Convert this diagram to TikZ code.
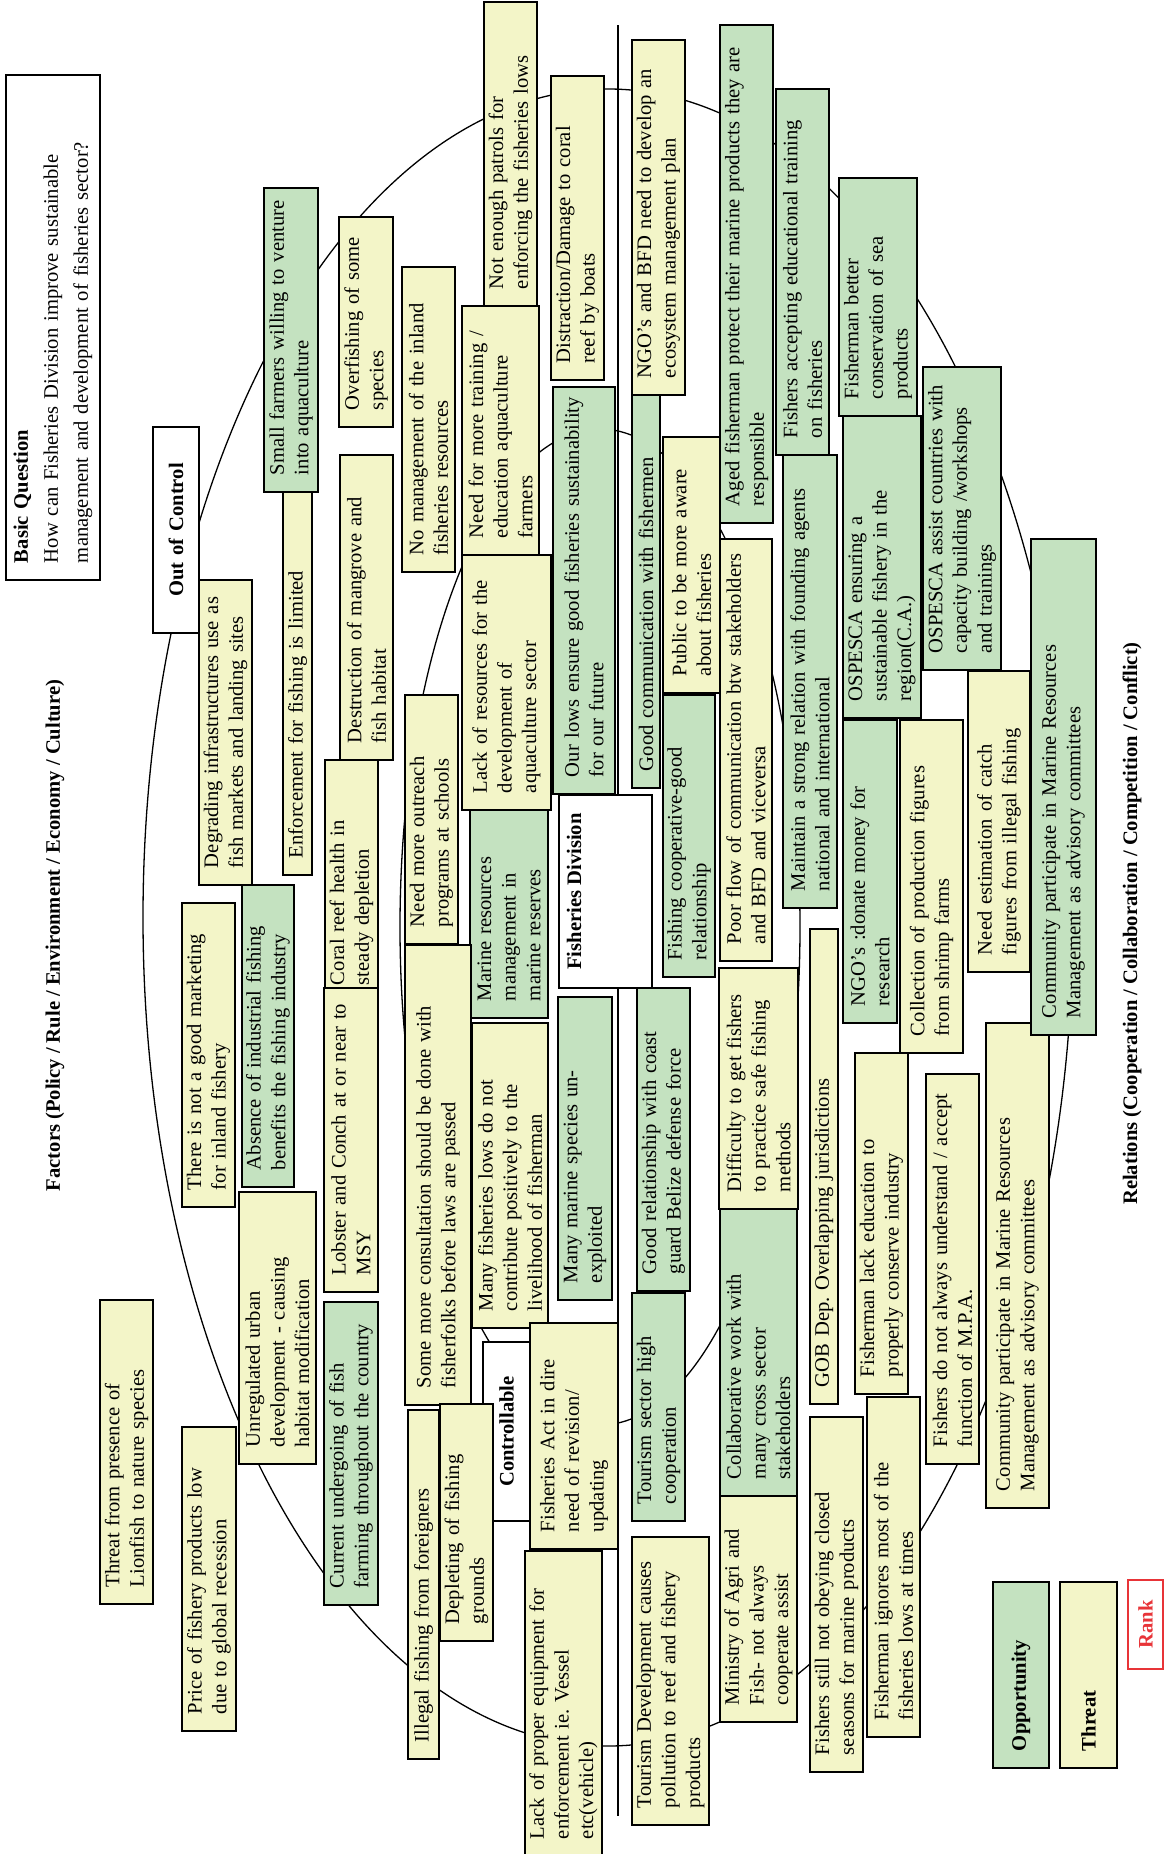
\documentclass[tikz,border=0pt]{standalone}
\usepackage{fontspec}
\setmainfont{Liberation Serif}
\definecolor{oppgreen}{RGB}{196,226,192}
\definecolor{thryellow}{RGB}{243,245,200}
\definecolor{rankred}{RGB}{232,52,56}
\newcommand\fs{\fontsize{10.3}{12.3}\selectfont}
% \mapbox{name}{style}{x1}{y1}{x2}{y2}{text}: upright box given by its corners,
% text turned to read upwards, starting at the lower edge
\newcommand\mapbox[7]{%
  \pgfmathsetmacro\bxlen{(#6-#4)*0.5}%
  \pgfmathsetmacro\bxthk{(#5-#3)*0.5}%
  \pgfmathsetmacro\bxtw{\bxlen-17}%
  \node[box,#2,minimum width=\bxlen pt,minimum height=\bxthk pt,text width=\bxtw pt]
    (#1) at ({(#3+#5)/2},{(#4+#6)/2}) {#7};}
\tikzset{
  box/.style={draw=black,line width=0.95pt,rotate=90,inner xsep=8.5pt,inner ysep=0.5pt,
    align=left,font=\fs,text=black},
  opp/.style={fill=oppgreen},
  thr/.style={fill=thryellow},
  plainbox/.style={fill=white},
  title/.style={rotate=90,font=\fs\bfseries,inner sep=0pt},
  ring/.style={line width=0.65pt},
}
\begin{document}
\frenchspacing
\begin{tikzpicture}[x=0.5pt,y=-0.5pt]
\useasboundingbox (0,0) rectangle (1164,1854);
\fill[white] (0,0) rectangle (1164,1854);

% outer ring, inner ring and the dividing axis
\coordinate (outerc) at (608,917.5);
\coordinate (innerc) at (600,927);
\draw[ring] (outerc) ellipse [x radius=465, y radius=828.5];
\draw[ring] (innerc) ellipse [x radius=200, y radius=498];
\coordinate (axistop) at (618,25);
\coordinate (axisbot) at (618,1816);
\draw[ring] (axistop) -- (axisbot);

% headings
\node[title] (factors) at (55,935.5) {Factors (Policy / Rule / Environment / Economy / Culture)};
\node[title] (relations) at (1132,923.5) {Relations (Cooperation / Collaboration / Competition / Conflict)};

\mapbox{question}{plainbox,font={\fontsize{10.3}{15}\selectfont},inner ysep=3pt}{6}{75}{100}{580}
  {\mbox{\textbf{Basic Question}}\\\mbox{How can Fisheries Division improve sustainable}\\\mbox{management and development of fisheries sector?}}

% zone labels
\mapbox{outofcontrol}{plainbox,font=\fs\bfseries,align=center}{153}{427}{199}{633}{Out of Control}
\mapbox{controllable}{plainbox,font=\fs\bfseries,align=center}{483}{1342}{530}{1521}{Controllable}
\mapbox{fisheriesdiv}{plainbox}{559}{795}{652}{988}{}
\node[title,anchor=west] (fisheriesdivtext) at (574,970) {Fisheries Division};

% factors side
\mapbox{lionfish}{thr}{100}{1300}{153}{1604}{\mbox{Threat from presence of}\\\mbox{Lionfish to nature species}}
\mapbox{price}{thr}{182}{1427}{236}{1731}{\mbox{Price of fishery products low}\\\mbox{due to global recession}}
\mapbox{marketing}{thr}{182}{903}{235}{1207}{\mbox{There is not a good marketing}\\\mbox{for inland fishery}}
\mapbox{industrial}{opp}{242}{885}{294}{1187}{\mbox{Absence of industrial fishing}\\\mbox{benefits the fishing industry}}
\mapbox{degrading}{thr}{199}{580}{252}{885}{\mbox{Degrading infrastructures use as}\\\mbox{fish markets and landing sites}}
\mapbox{enforcement}{thr}{283}{470}{312}{875}{\mbox{Enforcement for fishing is limited}}
\mapbox{smallfarmers}{opp}{264}{188}{318}{492}{\mbox{Small farmers willing to venture}\\\mbox{into aquaculture}}
\mapbox{urban}{thr}{239}{1192}{316}{1464}{\mbox{Unregulated urban}\\\mbox{development - causing}\\\mbox{habitat modification}}
\mapbox{fishfarming}{opp}{324}{1302}{378}{1605}{\mbox{Current undergoing of fish}\\\mbox{farming throughout the country}}
\mapbox{coral}{thr}{325}{760}{378}{1002}{\mbox{Coral reef health in}\\\mbox{steady depletion}}
\mapbox{lobster}{thr}{324}{988}{378}{1292}{\mbox{Lobster and Conch at or near to}\\\mbox{MSY}}
\mapbox{mangrove}{thr}{340}{455}{393}{760}{\mbox{Destruction of mangrove and}\\\mbox{fish habitat}}
\mapbox{overfishing}{thr}{339}{217}{393}{427}{\mbox{Overfishing of some}\\\mbox{species}}
\mapbox{inland}{thr}{402}{267}{455}{572}{\mbox{No management of the inland}\\\mbox{fisheries resources}}
\mapbox{training}{thr}{462}{306}{539}{555}{\mbox{Need for more training /}\\\mbox{education aquaculture}\\\mbox{farmers}}
\mapbox{patrols}{thr}{484}{2}{537}{306}{\mbox{Not enough patrols for}\\\mbox{enforcing the fisheries lows}}
\mapbox{damage}{thr}{551}{76}{604}{380}{\mbox{Distraction/Damage to coral}\\\mbox{reef by boats}}
\mapbox{resources}{thr}{462}{555}{551}{810}{\mbox{Lack of resources for the}\\\mbox{development of}\\\mbox{aquaculture sector}}
\mapbox{outreach}{thr}{405}{695}{458}{944}{\mbox{Need more outreach}\\\mbox{programs at schools}}
\mapbox{reserves}{opp}{470}{810}{548}{1018}{\mbox{Marine resources}\\\mbox{management in}\\\mbox{marine reserves}}
\mapbox{consultation}{thr}{405}{945}{471}{1405}{\mbox{Some more consultation should be done with}\\\mbox{fisherfolks before laws are passed}}
\mapbox{livelihood}{thr}{472}{1023}{548}{1328}{\mbox{Many fisheries lows do not}\\\mbox{contribute positively to the}\\\mbox{livelihood of fisherman}}
\mapbox{unexploited}{opp}{558}{997}{612}{1300}{\mbox{Many marine species un-}\\\mbox{exploited}}
\mapbox{ourlows}{opp}{553}{387}{615}{794}{\mbox{Our lows ensure good fisheries sustainability}\\\mbox{for our future}}
\mapbox{act}{thr}{530}{1323}{618}{1549}{\mbox{Fisheries Act in dire}\\\mbox{need of revision/}\\\mbox{updating}}
\mapbox{depleting}{thr}{440}{1404}{493}{1641}{\mbox{Depleting of fishing}\\\mbox{grounds}}
\mapbox{illegal}{thr}{408}{1410}{439}{1759}{\mbox{Illegal fishing from foreigners}}
\mapbox{equipment}{thr}{525}{1551}{602}{1856}{\mbox{Lack of proper equipment for}\\\mbox{enforcement ie. Vessel}\\\mbox{etc(vehicle)}}

% relations side
\mapbox{goodcomm}{opp}{632}{380}{660}{788}{\mbox{Good communication with fishermen}}
\mapbox{ecosystem}{thr}{632}{40}{685}{395}{\mbox{NGO’s and BFD need to develop an}\\\mbox{ecosystem management plan}}
\mapbox{aged}{opp}{720}{25}{773}{523}{\mbox{Aged fisherman protect their marine products they are}\\\mbox{responsible}}
\mapbox{accepting}{opp}{776}{89}{829}{455}{\mbox{Fishers accepting educational training}\\\mbox{on fisheries}}
\mapbox{conservation}{opp}{839}{178}{917}{416}{\mbox{Fisherman better}\\\mbox{conservation of sea}\\\mbox{products}}
\mapbox{ospescaa}{opp}{843}{416}{921}{718}{\mbox{OSPESCA ensuring a}\\\mbox{sustainable fishery in the}\\\mbox{region(C.A.)}}
\mapbox{ospescab}{opp}{923}{367}{1001}{670}{\mbox{OSPESCA assist countries with}\\\mbox{capacity building /workshops}\\\mbox{and trainings}}
\mapbox{communityb}{thr}{986}{1023}{1049}{1508}{\mbox{Community participate in Marine Resources}\\\mbox{Management as advisory committees}}
\mapbox{communitya}{opp}{1031}{539}{1096}{1035}{\mbox{Community participate in Marine Resources}\\\mbox{Management as advisory committees}}
\mapbox{catch}{thr}{968}{671}{1030}{972}{\mbox{Need estimation of catch}\\\mbox{figures from illegal fishing}}
\mapbox{shrimp}{thr}{900}{720}{963}{1053}{\mbox{Collection of production figures}\\\mbox{from shrimp farms}}
\mapbox{donate}{opp}{843}{720}{897}{1023}{\mbox{NGO’s :donate money for}\\\mbox{research}}
\mapbox{founding}{opp}{783}{455}{837}{908}{\mbox{Maintain a strong relation with founding agents}\\\mbox{national and international}}
\mapbox{poorflow}{thr}{720}{539}{772}{961}{\mbox{Poor flow of communication btw stakeholders}\\\mbox{and BFD and viceversa}}
\mapbox{public}{thr}{663}{437}{720}{693}{\mbox{Public to be more aware}\\\mbox{about fisheries}}
\mapbox{cooperative}{opp}{663}{695}{715}{977}{\mbox{Fishing cooperative-good}\\\mbox{relationship}}
\mapbox{coastguard}{opp}{637}{988}{690}{1291}{\mbox{Good relationship with coast}\\\mbox{guard Belize defense force}}
\mapbox{tourismsector}{opp}{632}{1293}{685}{1521}{\mbox{Tourism sector high}\\\mbox{cooperation}}
\mapbox{safefishing}{thr}{719}{968}{798}{1209}{\mbox{Difficulty to get fishers}\\\mbox{to practice safe fishing}\\\mbox{methods}}
\mapbox{crosssector}{opp}{720}{1209}{797}{1496}{\mbox{Collaborative work with}\\\mbox{many cross sector}\\\mbox{stakeholders}}
\mapbox{ministry}{thr}{720}{1496}{797}{1722}{\mbox{Ministry of Agri and}\\\mbox{Fish- not always}\\\mbox{cooperate assist}}
\mapbox{gob}{thr}{810}{929}{838}{1404}{\mbox{GOB Dep. Overlapping jurisdictions}}
\mapbox{lackeducation}{thr}{855}{1053}{908}{1394}{\mbox{Fisherman lack education to}\\\mbox{properly conserve industry}}
\mapbox{mpa}{thr}{926}{1074}{979}{1464}{\mbox{Fishers do not always understand / accept}\\\mbox{function of M.P.A.}}
\mapbox{closedseasons}{thr}{810}{1417}{863}{1772}{\mbox{Fishers still not obeying closed}\\\mbox{seasons for marine products}}
\mapbox{ignores}{thr}{867}{1397}{920}{1737}{\mbox{Fisherman ignores most of the}\\\mbox{fisheries lows at times}}
\mapbox{tourismdev}{thr}{632}{1537}{709}{1825}{\mbox{Tourism Development causes}\\\mbox{pollution to reef and fishery}\\\mbox{products}}

% legend
\mapbox{legendopp}{opp,font=\fs\bfseries}{993}{1582}{1049}{1768}{Opportunity}
\mapbox{legendthr}{thr,font=\fs\bfseries}{1060}{1582}{1117}{1768}{Threat}
\mapbox{rank}{draw=rankred,line width=0.7pt,fill=white,text=rankred,font=\fs\bfseries,align=center}{1128}{1580}{1163}{1669}{Rank}
\end{tikzpicture}
\end{document}
